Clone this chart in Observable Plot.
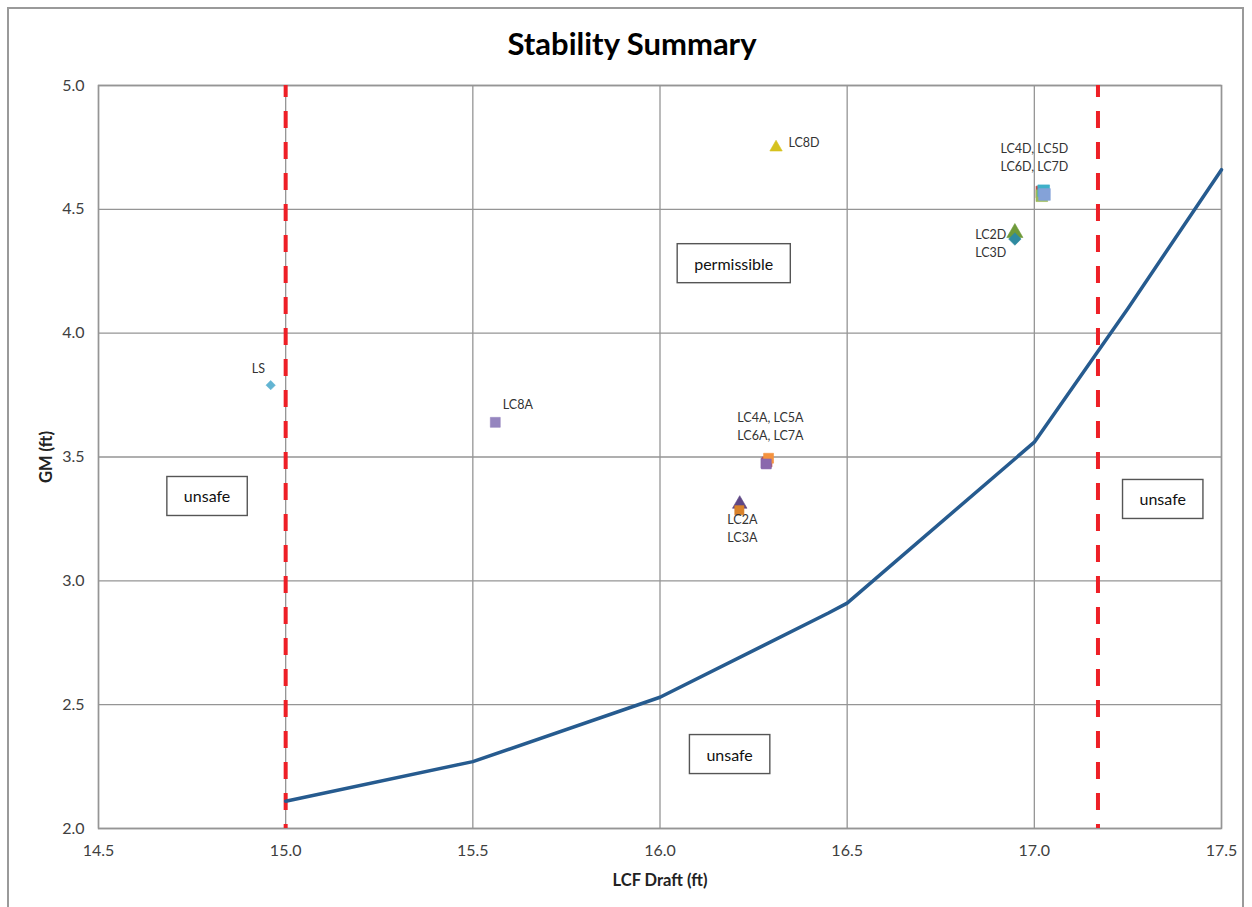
<!DOCTYPE html>
<html>
<head>
<meta charset="utf-8">
<script src="https://cdn.jsdelivr.net/npm/d3@7"></script>
<script src="https://cdn.jsdelivr.net/npm/@observablehq/plot@0.6"></script>
<style>
  html, body { margin: 0; padding: 0; background: #fff; }
  body { width: 1252px; height: 907px; position: relative; overflow: hidden; font-family: Lato, "Open Sans", sans-serif; }
  #frame { position: absolute; left: 7px; top: 7px; width: 1237px; height: 920px; border: 2px solid #9a9a9a; box-sizing: border-box; }
  #title { position: absolute; left: 0; top: 0; width: 1264px; height: 70px; line-height: 86px; text-align: center; font-size: 31px; font-weight: bold; color: #000; }
  #chart { position: absolute; left: 0; top: 70px; }
  #chart svg [aria-label="x-axis label"] text, #chart svg [aria-label="y-axis label"] text { font-weight: bold; font-size: 16.5px; fill: #222; }
</style>
</head>
<body>
<div id="frame"></div>
<div id="title">Stability Summary</div>
<div id="chart"></div>
<script>
// ---- data ----
const xTicks = [14.5, 15.0, 15.5, 16.0, 16.5, 17.0, 17.5];
const yTicks = [2.0, 2.5, 3.0, 3.5, 4.0, 4.5, 5.0];

// limiting GM curve
const curveDraft = [15.0, 15.5, 16.0, 16.45, 16.5, 17.0, 17.25, 17.5];
const curveGM    = [2.11, 2.27, 2.53, 2.87, 2.91, 3.56, 4.10, 4.66];

// draft limits
const draftLimits = [15.0, 17.17];

// loading conditions
const condNames  = ["LS", "LC8A", "LC8D", "LC4D", "LC5D", "LC6D", "LC7D", "LC2D", "LC3D", "LC4A", "LC5A", "LC6A", "LC7A", "LC2A", "LC3A"];
const condDraft  = [14.96, 15.56, 16.31, 17.02, 17.02, 17.025, 17.027, 16.948, 16.948, 16.283, 16.286, 16.29, 16.284, 16.213, 16.212];
const condGM     = [3.79, 3.64, 4.75, 4.57, 4.555, 4.575, 4.56, 4.405, 4.38, 3.475, 3.48, 3.495, 3.472, 3.31, 3.285];
const condSymbol = ["diamond2", "square", "triangle", "square", "square", "square", "square", "triangle", "diamond2", "square", "square", "square", "square", "triangle", "square"];
const condColor  = ["#62b4d2", "#9585bf", "#d6c21e", "#c0504d", "#9bbb59", "#3fb0c9", "#84a2d8", "#6f9a3a", "#2f8aa0", "#7f60a8", "#c0504d", "#f5923e", "#8a68ad", "#5e4684", "#d9822b"];
const condSize   = [4.2, 5.6, 4.6, 6.6, 6.6, 6.6, 6.6, 6, 5.6, 5.6, 5.6, 5.6, 5.6, 5.4, 5.2];

// point labels
const labelText  = ["LS", "LC8A", "LC8D", "LC4D, LC5D\nLC6D, LC7D", "LC2D\nLC3D", "LC4A, LC5A\nLC6A, LC7A", "LC2A\nLC3A"];
const labelDraft = [14.927, 15.58, 16.343, 17.0, 16.925, 16.295, 16.22];
const labelGM    = [3.862, 3.716, 4.774, 4.714, 4.367, 3.628, 3.215];
const labelAnchor = ["middle", "start", "start", "middle", "end", "middle", "middle"];

// region boxes
const regionText  = ["permissible", "unsafe", "unsafe", "unsafe"];
const regionDraft = [16.197, 14.79, 17.343, 16.186];
const regionGM    = [4.277, 3.337, 3.325, 2.295];

// ---- build ----
const curve = curveDraft.map((d, i) => ({draft: d, gm: curveGM[i]}));
const conds = condNames.map((n, i) => ({name: n, draft: condDraft[i], gm: condGM[i], symbol: condSymbol[i], color: condColor[i], r: condSize[i]}));
const labels = labelText.map((t, i) => ({text: t, draft: labelDraft[i], gm: labelGM[i], anchor: labelAnchor[i]}));
const regions = regionText.map((t, i) => ({text: t, draft: regionDraft[i], gm: regionGM[i]}));

const gridColor = "#959595";
const labelOpts = {x: "draft", y: "gm", text: "text", fontSize: 12.5, fill: "#333", lineHeight: 1.4, lineAnchor: "middle"};

const chart = Plot.plot({
  width: 1252,
  height: 837,
  marginLeft: 98,
  marginRight: 31,
  marginTop: 15,
  marginBottom: 79,
  style: {fontFamily: "Lato, 'Open Sans', sans-serif", fontSize: "16px", color: "#404040", background: "transparent", overflow: "visible"},
  r: {type: "identity"},
  x: {domain: [14.5, 17.5], ticks: xTicks, tickFormat: d3.format(".1f"), tickSize: 0, tickPadding: 16, label: "LCF Draft (ft)", labelAnchor: "center", labelArrow: "none", labelOffset: 57},
  y: {domain: [2, 5], ticks: yTicks, tickFormat: d3.format(".1f"), tickSize: 0, tickPadding: 14, label: "GM (ft)", labelAnchor: "center", labelArrow: "none", labelOffset: 58},
  marks: [
    Plot.gridX(xTicks, {stroke: gridColor, strokeOpacity: 1, strokeWidth: 1.3}),
    Plot.gridY(yTicks, {stroke: gridColor, strokeOpacity: 1, strokeWidth: 1.3}),
    Plot.frame({stroke: gridColor, strokeWidth: 1.5}),
    Plot.ruleX(draftLimits, {stroke: "#ee1f26", strokeWidth: 4, strokeDasharray: "17,14", strokeDashoffset: 5}),
    Plot.line(curve, {x: "draft", y: "gm", stroke: "#265b8f", strokeWidth: 3.5, strokeLinejoin: "round"}),
    Plot.dot(conds, {x: "draft", y: "gm", symbol: "symbol", fill: "color", r: "r", stroke: "color", strokeWidth: 0.6}),
    Plot.text(labels, {...labelOpts, filter: d => d.anchor === "middle", textAnchor: "middle"}),
    Plot.text(labels, {...labelOpts, filter: d => d.anchor === "start", textAnchor: "start"}),
    Plot.text(labels, {...labelOpts, filter: d => d.anchor === "end", textAnchor: "end"}),
    Plot.text(regions, {x: "draft", y: "gm", text: "text", fontSize: 16, fill: "#111", className: "region"})
  ]
});
chart.style.overflow = "visible";
document.getElementById("chart").appendChild(chart);

// draw boxes around region labels (annotation frames)
chart.querySelectorAll("g.region text").forEach(t => {
  const b = t.getBBox();
  const padX = 17, h = 39;
  const rect = document.createElementNS("http://www.w3.org/2000/svg", "rect");
  const cy = b.y + b.height / 2;
  rect.setAttribute("x", b.x - padX);
  rect.setAttribute("y", cy - h / 2);
  rect.setAttribute("width", b.width + 2 * padX);
  rect.setAttribute("height", h);
  rect.setAttribute("fill", "#fff");
  rect.setAttribute("stroke", "#555");
  rect.setAttribute("stroke-width", "1.4");
  if (t.getAttribute("transform")) rect.setAttribute("transform", t.getAttribute("transform"));
  t.parentNode.insertBefore(rect, t);
});
</script>
</body>
</html>
